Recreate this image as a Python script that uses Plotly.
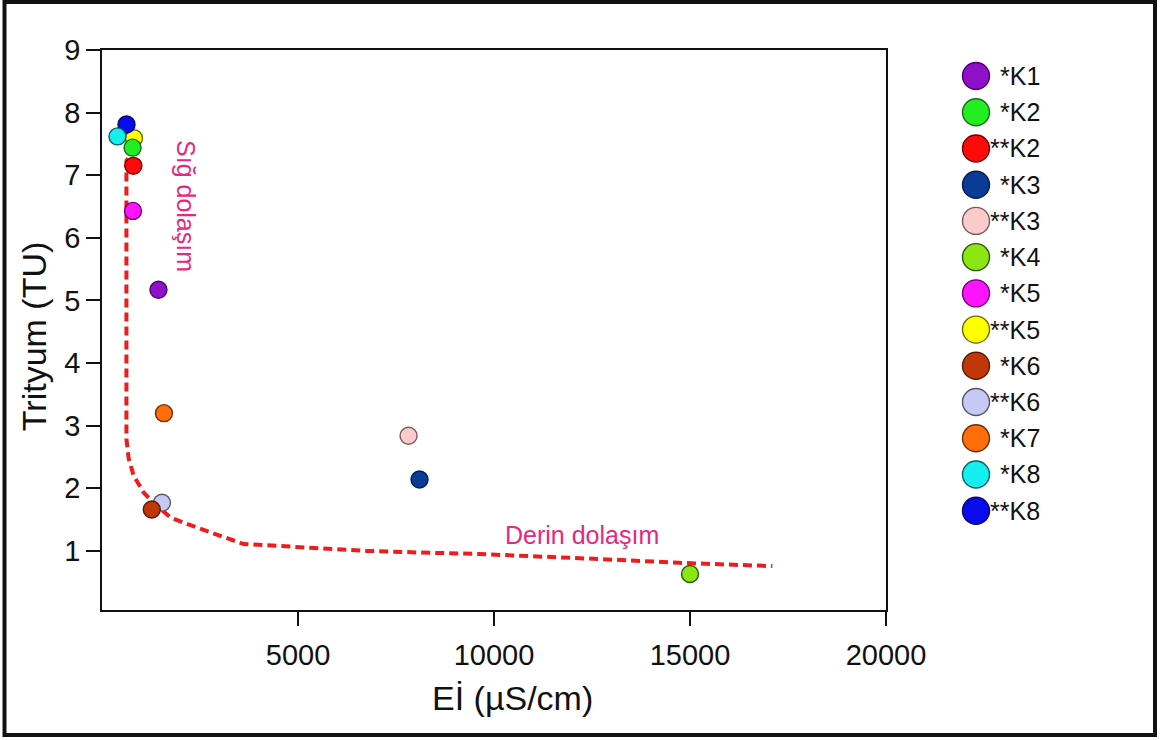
import plotly.graph_objects as go

# ---------------- data ----------------
samples = ["*K1", "*K2", "**K2", "*K3", "**K3", "*K4", "*K5", "**K5",
           "*K6", "**K6", "*K7", "*K8", "**K8"]
ec_values = [1440, 780, 800, 8100, 7820, 15000, 790, 815, 1270, 1530, 1580, 395, 625]
tritium_values = [5.17, 7.44, 7.15, 2.14, 2.84, 0.63, 6.43, 7.59, 1.66, 1.77, 3.20, 7.62, 7.81]
fill_colors = ["#8E10C8", "#22EE22", "#FF0A0A", "#0A3B96", "#FBCACA", "#8CE614", "#FF14FF",
               "#FFFF00", "#C0370A", "#C8C8F5", "#FF6E0A", "#14EEEE", "#0A0AEE"]
edge_colors = ["#4B0070", "#1A6A1A", "#700000", "#041E50", "#7A5A5A", "#2A5A10", "#700070",
               "#6A6A00", "#5A1A05", "#55556A", "#6A3005", "#0A6060", "#050560"]

trend_ec = [598, 623, 623, 682, 809, 1064, 1318, 1743, 2168, 2761, 3354, 3608,
            5051, 6748, 8020, 9631, 12684, 14720, 17100]
trend_tritium = [7.26, 7.25, 2.79, 2.47, 2.20, 1.93, 1.77, 1.535, 1.43, 1.30, 1.16, 1.11,
                 1.06, 1.00, 0.976, 0.95, 0.87, 0.81, 0.757]

x_ticks = [5000, 10000, 15000, 20000]
y_ticks = [1, 2, 3, 4, 5, 6, 7, 8, 9]

FONT = "Arial, Liberation Sans, sans-serif"
PINK = "#E6287E"

fig = go.Figure()

# dashed trend curve
fig.add_trace(go.Scatter(
    x=trend_ec, y=trend_tritium, mode="lines",
    line=dict(color="#EE1C1C", width=4, dash="9px,5px"),
    hoverinfo="skip", showlegend=False, xaxis="x", yaxis="y"))

# sample points: ** first, then * on top
order = [i for i, s in enumerate(samples) if s.startswith("**")] + \
        [i for i, s in enumerate(samples) if not s.startswith("**")]
for i in order:
    fig.add_trace(go.Scatter(
        x=[ec_values[i]], y=[tritium_values[i]], mode="markers", name=samples[i],
        marker=dict(size=17, color=fill_colors[i], line=dict(color=edge_colors[i], width=1.4)),
        showlegend=False, xaxis="x", yaxis="y"))

# manual legend on its own axes
idx = list(range(len(samples)))
fig.add_trace(go.Scatter(
    x=[26] * len(samples), y=idx, mode="markers",
    marker=dict(size=27, color=fill_colors, line=dict(color=edge_colors, width=1.4)),
    hoverinfo="skip", showlegend=False, xaxis="x2", yaxis="y2"))

annotations = []
for i, s in enumerate(samples):
    annotations.append(dict(x=92, y=i, xref="x2", yref="y2", text=s, showarrow=False,
                            xanchor="right", yanchor="middle",
                            font=dict(family=FONT, size=25, color="#111111")))

annotations += [
    dict(x=2140, y=6.51, xref="x", yref="y", text="Sığ dolaşım", textangle=90,
         xanchor="center", yanchor="middle",
         showarrow=False, font=dict(family=FONT, size=25, color=PINK)),
    dict(x=12245, y=1.25, xref="x", yref="y", text="Derin dolaşım",
         xanchor="center", yanchor="middle",
         showarrow=False, font=dict(family=FONT, size=25, color=PINK)),
    dict(x=-0.0644, y=0.489, xref="paper", yref="paper", text="Trityum (TU)", textangle=-90,
         xanchor="center", yanchor="middle",
         showarrow=False, font=dict(family=FONT, size=34, color="#111111")),
    dict(x=0.3892, y=-0.158, xref="paper", yref="paper", text="Eİ (µS/cm)",
         xanchor="center", yanchor="middle",
         showarrow=False, font=dict(family=FONT, size=34, color="#111111")),
]

axis_common = dict(showgrid=False, zeroline=False, showline=True, linecolor="#111111",
                   linewidth=1.6, mirror=True, ticks="outside", ticklen=14, tickwidth=1.6,
                   tickcolor="#111111", automargin=False,
                   tickfont=dict(family=FONT, size=29, color="#111111"))

fig.update_layout(
    width=1160, height=740,
    margin=dict(l=102, r=2, t=50, b=130, autoexpand=False),
    paper_bgcolor="white", plot_bgcolor="white",
    showlegend=False,
    xaxis=dict(domain=[0, 0.74242], range=[0, 20000], tickvals=x_ticks,
               ticktext=[str(v) for v in x_ticks], ticklabelstandoff=4, **axis_common),
    yaxis=dict(domain=[0, 1], range=[0.056, 9], tickvals=y_ticks, **axis_common),
    xaxis2=dict(domain=[0.80303, 0.90720], range=[0, 110], visible=False, anchor="y2",
                automargin=False),
    yaxis2=dict(domain=[0.145, 0.9859], range=[12.5, -0.5], visible=False, anchor="x2",
                automargin=False),
    annotations=annotations,
    shapes=[dict(type="rect", xref="paper", yref="paper",
                 x0=-97.5 / 1056, x1=1053 / 1056, y0=(610 - 735) / 560, y1=(610 - 2) / 560,
                 line=dict(color="#111111", width=4), fillcolor="rgba(0,0,0,0)", layer="above")],
)

fig.write_html("out.html")
